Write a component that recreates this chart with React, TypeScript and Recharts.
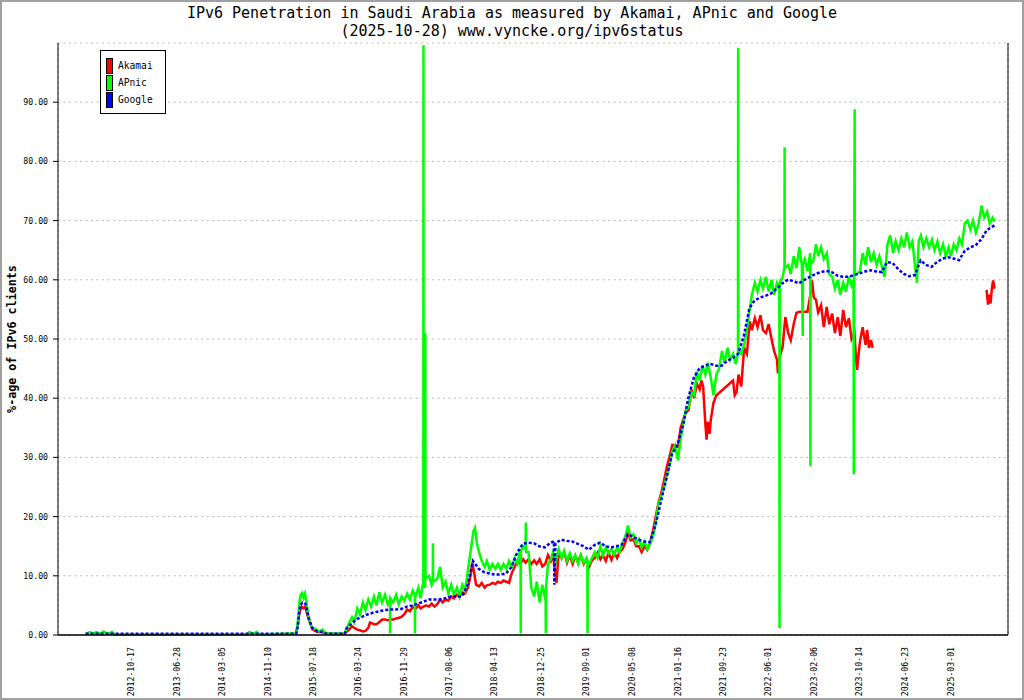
import { LineChart, Line, XAxis, YAxis, CartesianGrid, ReferenceLine, Legend } from 'recharts';

type Pt = [string, number | null];

const AKAMAI: Pt[] = [
  ['2015-04-15', 0.2], ['2015-04-25', 2.0], ['2015-05-05', 4.0], ['2015-05-15', 4.8], ['2015-05-25', 4.5],
  ['2015-06-05', 4.8], ['2015-06-15', 3.5], ['2015-06-25', 2.5], ['2015-07-13', 1.0], ['2015-08-10', 0.5],
  ['2015-09-08', 0.5], ['2015-09-30', 0.2], ['2016-01-05', 0.2],
  ['2016-02-01', 0.9], ['2016-02-17', 1.5], ['2016-03-01', 1.2], ['2016-03-17', 0.9], ['2016-04-01', 0.8],
  ['2016-04-17', 0.6], ['2016-05-01', 0.7], ['2016-05-17', 1.2], ['2016-05-26', 2.1], ['2016-06-05', 2.0],
  ['2016-06-17', 1.8], ['2016-07-01', 1.8], ['2016-07-17', 2.2], ['2016-08-01', 2.6], ['2016-08-17', 2.6],
  ['2016-09-01', 2.5], ['2016-09-17', 2.6], ['2016-10-01', 2.6], ['2016-10-17', 2.8], ['2016-11-01', 2.9],
  ['2016-11-17', 3.1], ['2016-12-01', 3.5], ['2016-12-17', 4.3], ['2017-01-01', 4.0], ['2017-01-17', 4.8],
  ['2017-02-01', 4.4], ['2017-02-17', 5.0], ['2017-03-01', 4.5], ['2017-03-17', 4.8], ['2017-04-01', 5.0],
  ['2017-04-17', 4.8], ['2017-05-01', 5.3], ['2017-05-17', 4.8], ['2017-06-01', 5.2], ['2017-06-17', 6.0],
  ['2017-07-01', 5.5], ['2017-07-17', 6.0], ['2017-08-01', 5.8], ['2017-08-17', 6.5], ['2017-09-01', 6.2],
  ['2017-09-17', 6.8], ['2017-10-01', 6.5], ['2017-10-17', 7.2], ['2017-11-01', 7.0], ['2017-11-17', 8.0],
  ['2017-12-01', 10.0], ['2017-12-11', 12.2], ['2017-12-21', 10.5], ['2018-01-01', 8.5], ['2018-01-17', 8.2],
  ['2018-02-01', 8.8], ['2018-02-17', 8.0], ['2018-03-01', 8.4], ['2018-03-17', 8.5], ['2018-04-01', 8.8],
  ['2018-04-17', 8.6], ['2018-05-01', 9.0], ['2018-05-17', 8.8], ['2018-06-01', 9.2], ['2018-06-17', 9.0],
  ['2018-07-01', 8.8], ['2018-07-17', 10.5], ['2018-08-01', 11.5], ['2018-08-17', 12.5], ['2018-09-01', 12.0],
  ['2018-09-17', 12.8], ['2018-10-01', 12.2], ['2018-10-17', 12.8], ['2018-11-01', 12.0], ['2018-11-17', 12.6],
  ['2018-12-01', 12.0], ['2018-12-17', 12.8], ['2019-01-01', 11.6], ['2019-01-17', 12.0], ['2019-02-01', 13.5],
  ['2019-02-17', 12.5], ['2019-03-01', 13.5], ['2019-03-20', 8.8], ['2019-04-01', 13.9], ['2019-04-17', 13.0],
  ['2019-05-01', 14.0], ['2019-05-17', 12.2], ['2019-06-01', 13.5], ['2019-06-17', 12.0], ['2019-07-01', 13.2],
  ['2019-07-17', 12.5], ['2019-08-01', 13.5], ['2019-08-17', 12.0], ['2019-09-01', 12.8], ['2019-09-17', 11.6],
  ['2019-10-01', 12.6], ['2019-10-17', 13.0], ['2019-11-01', 13.9], ['2019-11-17', 12.8], ['2019-12-01', 13.5],
  ['2019-12-17', 12.5], ['2020-01-01', 13.9], ['2020-01-17', 12.7], ['2020-02-01', 13.9], ['2020-02-17', 13.0],
  ['2020-03-01', 14.0], ['2020-03-17', 14.5], ['2020-04-01', 15.5], ['2020-04-17', 17.3], ['2020-05-01', 16.0],
  ['2020-05-17', 16.2], ['2020-06-01', 15.0], ['2020-06-17', 15.0], ['2020-07-01', 14.0], ['2020-07-17', 15.0],
  ['2020-08-01', 14.4], ['2020-08-17', 15.5], ['2020-09-01', 17.5], ['2020-09-17', 20.0], ['2020-10-01', 22.2],
  ['2020-10-17', 24.0], ['2020-11-01', 26.0], ['2020-11-17', 28.4], ['2020-12-01', 30.0], ['2020-12-17', 32.1],
  ['2021-01-01', 32.0], ['2021-01-17', 31.8], ['2021-02-01', 35.0], ['2021-02-17', 36.5], ['2021-03-01', 37.5],
  ['2021-03-17', 38.0], ['2021-04-01', 41.5], ['2021-04-17', 40.0], ['2021-05-01', 42.5], ['2021-05-17', 41.5],
  ['2021-05-26', 43.0], ['2021-06-05', 42.0], ['2021-06-17', 35.8], ['2021-06-24', 33.0], ['2021-07-01', 36.0],
  ['2021-07-11', 34.0], ['2021-07-17', 36.3], ['2021-08-01', 39.2], ['2021-08-17', 40.5], ['2021-11-17', 43.0],
  ['2021-11-26', 40.5], ['2021-12-06', 41.0], ['2021-12-17', 44.0], ['2022-01-01', 42.0], ['2022-01-17', 48.5],
  ['2022-02-01', 47.5], ['2022-02-17', 53.0], ['2022-03-01', 51.5], ['2022-03-17', 53.5], ['2022-04-01', 52.0],
  ['2022-04-17', 54.0], ['2022-05-01', 51.5], ['2022-05-17', 51.0], ['2022-06-01', 52.5], ['2022-06-17', 50.0],
  ['2022-07-01', 48.0], ['2022-07-17', 46.5], ['2022-07-22', 44.2], ['2022-08-01', 47.0], ['2022-08-17', 48.7],
  ['2022-09-01', 53.7], ['2022-09-17', 51.0], ['2022-10-01', 49.8], ['2022-10-17', 52.5], ['2022-11-01', 54.4],
  ['2022-11-17', 54.6], ['2023-01-01', 54.6], ['2023-01-17', 57.5], ['2023-01-26', 59.9], ['2023-02-05', 57.0],
  ['2023-02-17', 56.6], ['2023-03-01', 54.5], ['2023-03-17', 55.7], ['2023-04-01', 52.0], ['2023-04-17', 55.4],
  ['2023-05-01', 52.5], ['2023-05-17', 54.3], ['2023-06-01', 51.0], ['2023-06-17', 53.7], ['2023-07-01', 50.5],
  ['2023-07-17', 54.9], ['2023-08-01', 52.0], ['2023-08-17', 53.5], ['2023-09-01', 50.0], ['2023-09-17', 51.0],
  ['2023-09-24', 47.5], ['2023-10-01', 44.8], ['2023-10-17', 49.5], ['2023-11-01', 52.0], ['2023-11-17', 49.0],
  ['2023-11-26', 51.5], ['2023-12-06', 48.5], ['2023-12-17', 49.8], ['2023-12-26', 48.5],
  ['2024-06-01', null],
  ['2025-09-14', 58.3], ['2025-09-22', 55.8], ['2025-09-30', 57.5], ['2025-10-06', 56.0], ['2025-10-13', 58.5],
  ['2025-10-20', 59.9], ['2025-10-28', 58.5],
];

const APNIC: Pt[] = [
  ['2012-02-10', 0.2], ['2012-03-05', 0.5], ['2012-03-20', 0.2], ['2012-04-10', 0.5], ['2012-05-01', 0.2],
  ['2012-05-20', 0.6], ['2012-06-10', 0.2], ['2012-07-05', 0.5], ['2012-07-20', 0.1], ['2014-07-20', 0.1],
  ['2014-08-01', 0.5], ['2014-08-20', 0.2], ['2014-09-10', 0.5], ['2014-09-28', 0.1],
  ['2015-04-17', 0.3], ['2015-04-25', 2.5], ['2015-05-03', 5.5], ['2015-05-10', 6.8], ['2015-05-18', 7.1],
  ['2015-05-26', 6.3], ['2015-06-03', 7.0], ['2015-06-10', 5.8], ['2015-06-20', 3.5], ['2015-07-01', 2.0],
  ['2015-07-13', 1.2], ['2015-08-01', 1.0], ['2015-08-20', 0.6], ['2015-09-08', 0.9], ['2015-09-25', 0.3],
  ['2016-01-05', 0.2], ['2016-02-01', 2.0], ['2016-02-17', 3.0], ['2016-03-01', 2.2], ['2016-03-17', 4.5],
  ['2016-04-01', 3.5], ['2016-04-17', 5.5], ['2016-05-01', 4.2], ['2016-05-17', 6.0], ['2016-06-01', 4.8],
  ['2016-06-17', 6.5], ['2016-07-01', 5.0], ['2016-07-17', 7.2], ['2016-08-01', 5.5], ['2016-08-17', 6.8],
  ['2016-09-01', 5.2], ['2016-09-13', 6.0], ['2016-09-14', 0.3], ['2016-09-15', 6.2], ['2016-10-01', 5.5],
  ['2016-10-17', 6.8], ['2016-11-01', 5.2], ['2016-11-17', 6.5], ['2016-12-01', 5.8], ['2016-12-17', 7.0],
  ['2017-01-01', 6.0], ['2017-01-17', 7.5], ['2017-01-28', 6.8], ['2017-01-29', 0.3], ['2017-01-30', 7.0],
  ['2017-02-01', 6.5], ['2017-02-17', 8.0], ['2017-03-01', 6.2], ['2017-03-16', 9.0], ['2017-03-17', 99.6],
  ['2017-03-18', 8.5], ['2017-03-26', 8.0], ['2017-03-27', 51.0], ['2017-03-28', 9.5], ['2017-04-17', 10.0],
  ['2017-05-01', 8.5], ['2017-05-07', 9.0], ['2017-05-08', 15.5], ['2017-05-09', 9.0], ['2017-06-01', 9.5],
  ['2017-06-17', 11.5], ['2017-07-01', 8.0], ['2017-07-17', 9.0], ['2017-08-01', 7.0], ['2017-08-17', 8.5],
  ['2017-09-01', 6.8], ['2017-09-17', 8.0], ['2017-10-01', 6.5], ['2017-10-17', 8.5], ['2017-11-01', 7.5],
  ['2017-11-17', 11.0], ['2017-12-01', 14.0], ['2017-12-17', 17.5], ['2017-12-26', 18.1], ['2018-01-05', 15.5],
  ['2018-01-17', 14.0], ['2018-02-01', 12.5], ['2018-02-17', 11.5], ['2018-03-01', 12.5], ['2018-03-17', 11.0],
  ['2018-04-01', 12.0], ['2018-04-17', 11.2], ['2018-05-01', 12.0], ['2018-05-17', 11.0], ['2018-06-01', 12.0],
  ['2018-06-17', 11.2], ['2018-07-01', 12.5], ['2018-07-17', 11.5], ['2018-08-01', 13.0], ['2018-08-17', 12.0],
  ['2018-09-01', 14.5], ['2018-09-03', 14.0], ['2018-09-04', 0.3], ['2018-09-05', 14.2], ['2018-09-17', 15.0],
  ['2018-10-01', 14.5], ['2018-10-02', 19.0], ['2018-10-03', 14.0], ['2018-10-17', 14.0], ['2018-11-01', 8.0],
  ['2018-11-17', 6.5], ['2018-12-01', 9.0], ['2018-12-17', 5.5], ['2019-01-01', 8.5], ['2019-01-17', 6.0],
  ['2019-01-19', 6.5], ['2019-01-20', 0.3], ['2019-01-21', 8.0], ['2019-02-01', 12.0], ['2019-02-17', 12.8],
  ['2019-03-01', 14.0], ['2019-03-17', 12.5], ['2019-04-01', 14.5], ['2019-04-17', 13.0], ['2019-05-01', 14.2],
  ['2019-05-17', 12.5], ['2019-06-01', 13.8], ['2019-06-17', 12.5], ['2019-07-01', 13.5], ['2019-07-17', 12.0],
  ['2019-08-01', 13.5], ['2019-08-17', 12.2], ['2019-09-01', 13.0], ['2019-09-06', 12.5], ['2019-09-07', 0.3],
  ['2019-09-08', 12.0], ['2019-09-17', 12.0], ['2019-10-01', 13.0], ['2019-10-17', 14.0], ['2019-11-01', 13.0],
  ['2019-11-17', 15.0], ['2019-12-01', 13.5], ['2019-12-17', 14.8], ['2020-01-01', 13.8], ['2020-01-17', 14.5],
  ['2020-02-01', 13.5], ['2020-02-17', 14.8], ['2020-03-01', 14.0], ['2020-03-17', 15.5], ['2020-04-01', 16.5],
  ['2020-04-17', 18.5], ['2020-05-01', 16.5], ['2020-05-17', 17.0], ['2020-06-01', 15.5], ['2020-06-17', 16.2],
  ['2020-07-01', 14.8], ['2020-07-17', 15.8], ['2020-08-01', 14.5], ['2020-08-17', 15.5], ['2020-09-01', 16.5],
  ['2020-09-17', 19.0], ['2020-10-01', 22.0], ['2020-10-17', 23.5], ['2020-11-01', 25.0], ['2020-11-17', 27.0],
  ['2020-12-01', 28.5], ['2020-12-17', 31.0], ['2021-01-01', 32.0], ['2021-01-17', 29.5], ['2021-02-01', 33.0],
  ['2021-02-17', 36.0], ['2021-03-01', 38.0], ['2021-03-17', 38.5], ['2021-04-01', 41.0], ['2021-04-17', 40.5],
  ['2021-05-01', 44.5], ['2021-05-17', 43.0], ['2021-06-01', 45.5], ['2021-06-17', 44.0], ['2021-07-01', 46.0],
  ['2021-07-17', 43.5], ['2021-08-01', 40.5], ['2021-08-17', 44.0], ['2021-09-01', 45.0], ['2021-09-17', 48.0],
  ['2021-10-01', 46.0], ['2021-10-17', 48.5], ['2021-11-01', 46.5], ['2021-11-17', 47.5], ['2021-12-01', 45.8],
  ['2021-12-14', 47.5], ['2021-12-15', 99.2], ['2021-12-16', 48.0], ['2022-01-01', 47.5], ['2022-01-17', 49.0],
  ['2022-02-01', 51.5], ['2022-02-17', 55.0], ['2022-03-01', 57.5], ['2022-03-17', 59.5], ['2022-04-01', 58.0],
  ['2022-04-17', 60.0], ['2022-05-01', 58.5], ['2022-05-17', 60.5], ['2022-06-01', 58.0], ['2022-06-17', 60.0],
  ['2022-07-01', 57.5], ['2022-07-17', 59.5], ['2022-07-30', 58.5], ['2022-07-31', 1.2], ['2022-08-01', 59.5],
  ['2022-08-17', 60.5], ['2022-08-27', 62.0], ['2022-08-28', 82.4], ['2022-08-29', 62.0], ['2022-09-17', 62.5],
  ['2022-10-01', 61.0], ['2022-10-17', 64.0], ['2022-11-01', 62.0], ['2022-11-17', 65.5], ['2022-12-01', 62.5],
  ['2022-12-06', 50.5], ['2022-12-07', 62.5], ['2022-12-17', 63.5], ['2023-01-01', 61.5], ['2023-01-16', 64.5],
  ['2023-01-17', 28.5], ['2023-01-18', 63.0], ['2023-02-01', 63.0], ['2023-02-17', 66.0], ['2023-03-01', 64.0],
  ['2023-03-17', 65.5], ['2023-04-01', 63.5], ['2023-04-17', 64.5], ['2023-05-01', 61.0], ['2023-05-17', 60.5],
  ['2023-06-01', 58.5], ['2023-06-17', 60.0], ['2023-07-01', 57.5], ['2023-07-17', 59.5], ['2023-08-01', 58.0],
  ['2023-08-17', 60.5], ['2023-09-01', 59.0], ['2023-09-12', 60.0], ['2023-09-13', 27.2], ['2023-09-15', 60.5],
  ['2023-09-18', 88.8], ['2023-09-19', 61.0], ['2023-10-01', 61.0], ['2023-10-17', 61.5], ['2023-11-01', 64.5],
  ['2023-11-17', 62.5], ['2023-12-01', 65.5], ['2023-12-17', 63.0], ['2024-01-01', 64.5], ['2024-01-17', 62.5],
  ['2024-02-01', 64.0], ['2024-02-17', 62.0], ['2024-03-01', 60.5], ['2024-03-17', 66.0], ['2024-04-01', 67.5],
  ['2024-04-17', 64.5], ['2024-05-01', 66.5], ['2024-05-17', 65.0], ['2024-06-01', 67.0], ['2024-06-17', 65.5],
  ['2024-07-01', 68.0], ['2024-07-17', 65.5], ['2024-08-01', 66.5], ['2024-08-17', 62.0], ['2024-08-26', 59.5],
  ['2024-09-05', 66.5], ['2024-09-17', 67.5], ['2024-10-01', 65.5], ['2024-10-17', 67.0], ['2024-11-01', 65.5],
  ['2024-11-17', 66.8], ['2024-12-01', 65.0], ['2024-12-17', 66.5], ['2025-01-01', 64.5], ['2025-01-17', 66.0],
  ['2025-02-01', 64.0], ['2025-02-17', 65.5], ['2025-03-01', 64.0], ['2025-03-17', 66.0], ['2025-04-01', 65.0],
  ['2025-04-17', 67.0], ['2025-05-01', 66.0], ['2025-05-17', 69.5], ['2025-06-01', 70.0], ['2025-06-17', 68.5],
  ['2025-07-01', 70.0], ['2025-07-17', 68.0], ['2025-08-01', 69.5], ['2025-08-17', 72.5], ['2025-09-01', 70.5],
  ['2025-09-17', 71.5], ['2025-10-01', 69.5], ['2025-10-17', 70.5], ['2025-10-28', 69.8],
];

const GOOGLE: Pt[] = [
  ['2012-02-10', 0.2], ['2013-06-01', 0.2], ['2014-06-01', 0.2], ['2015-04-15', 0.2], ['2015-04-25', 1.5],
  ['2015-05-01', 3.5], ['2015-05-08', 5.0], ['2015-05-20', 5.5], ['2015-06-05', 5.3], ['2015-06-12', 4.5],
  ['2015-06-21', 3.1], ['2015-07-13', 1.2], ['2015-08-10', 0.6], ['2015-09-08', 0.5], ['2015-09-30', 0.2],
  ['2016-01-08', 0.2], ['2016-01-15', 1.0], ['2016-02-15', 2.0], ['2016-03-15', 2.7], ['2016-04-15', 3.1],
  ['2016-05-15', 3.5], ['2016-06-15', 3.8], ['2016-07-15', 4.0], ['2016-08-15', 4.2], ['2016-09-15', 4.3],
  ['2016-10-15', 4.3], ['2016-11-15', 4.4], ['2016-12-15', 4.8], ['2017-01-15', 5.0], ['2017-02-15', 5.3],
  ['2017-03-15', 5.6], ['2017-04-15', 6.0], ['2017-05-15', 6.0], ['2017-06-15', 6.0], ['2017-07-15', 6.2],
  ['2017-08-15', 6.5], ['2017-09-15', 6.5], ['2017-10-15', 6.5], ['2017-11-15', 8.5], ['2017-12-15', 12.5],
  ['2018-01-15', 11.2], ['2018-02-15', 10.6], ['2018-03-15', 10.4], ['2018-04-15', 10.2], ['2018-05-15', 10.2],
  ['2018-06-15', 10.4], ['2018-07-15', 11.5], ['2018-08-15', 13.9], ['2018-09-15', 15.4], ['2018-10-15', 15.6],
  ['2018-11-15', 15.5], ['2018-12-15', 15.0], ['2019-01-15', 14.8], ['2019-02-15', 15.6], ['2019-03-06', 15.8],
  ['2019-03-08', 8.5], ['2019-03-14', 15.5], ['2019-04-15', 16.1], ['2019-05-15', 15.9], ['2019-06-15', 15.8],
  ['2019-07-15', 15.4], ['2019-08-15', 15.0], ['2019-09-15', 14.4], ['2019-10-15', 15.2], ['2019-11-15', 15.6],
  ['2019-12-15', 15.0], ['2020-01-15', 14.8], ['2020-02-15', 15.0], ['2020-03-15', 15.3], ['2020-04-15', 17.0],
  ['2020-05-15', 16.6], ['2020-06-15', 16.1], ['2020-07-15', 15.8], ['2020-08-15', 15.7], ['2020-09-15', 18.5],
  ['2020-10-15', 22.5], ['2020-11-15', 26.5], ['2020-12-15', 30.5], ['2021-01-15', 32.2], ['2021-02-15', 35.5],
  ['2021-03-15', 40.0], ['2021-04-15', 43.5], ['2021-05-15', 45.0], ['2021-06-15', 45.5], ['2021-07-15', 45.8],
  ['2021-08-15', 45.5], ['2021-09-15', 45.5], ['2021-10-15', 46.3], ['2021-11-15', 46.8], ['2021-12-15', 47.5],
  ['2022-01-15', 50.5], ['2022-02-15', 55.2], ['2022-03-15', 56.5], ['2022-04-15', 57.0], ['2022-05-15', 57.3],
  ['2022-06-15', 57.7], ['2022-07-15', 58.5], ['2022-08-15', 59.4], ['2022-09-15', 60.0], ['2022-10-15', 59.8],
  ['2022-11-15', 59.4], ['2022-12-15', 60.0], ['2023-01-15', 60.5], ['2023-02-15', 61.0], ['2023-03-15', 61.3],
  ['2023-04-15', 61.5], ['2023-05-15', 61.3], ['2023-06-15', 60.7], ['2023-07-15', 60.5], ['2023-08-15', 60.5],
  ['2023-09-15', 60.8], ['2023-10-15', 61.1], ['2023-11-15', 61.4], ['2023-12-15', 61.6], ['2024-01-15', 61.4],
  ['2024-02-15', 61.3], ['2024-03-15', 63.0], ['2024-04-15', 62.8], ['2024-05-15', 61.8], ['2024-06-15', 61.0],
  ['2024-07-15', 60.6], ['2024-08-15', 60.8], ['2024-09-15', 63.3], ['2024-10-15', 62.5], ['2024-11-15', 62.2],
  ['2024-12-15', 63.0], ['2025-01-15', 63.6], ['2025-02-15', 63.8], ['2025-03-15', 63.6], ['2025-04-15', 63.3],
  ['2025-05-15', 64.8], ['2025-06-15', 65.5], ['2025-07-15', 65.8], ['2025-08-15', 66.8], ['2025-09-15', 68.4],
  ['2025-10-28', 69.2],
];

const SERIES_ORDER = ['Akamai', 'APnic', 'Google'];
const X_LABELS = [
  '2012-10-17', '2013-06-28', '2014-03-05', '2014-11-10', '2015-07-18', '2016-03-24', '2016-11-29',
  '2017-08-06', '2018-04-13', '2018-12-25', '2019-09-01', '2020-05-08', '2021-01-16', '2021-09-23',
  '2022-06-01', '2023-02-06', '2023-10-14', '2024-06-23', '2025-03-01',
];
const Y_TICKS = [0, 10, 20, 30, 40, 50, 60, 70, 80, 90];

const DAY = 86400000;
const MONO = '"DejaVu Sans Mono", "Liberation Mono", monospace';
const toDay = (s: string) => Date.parse(s) / DAY;
const toRows = (pts: Pt[]) => pts.map(([d, v]) => ({ x: toDay(d), v }));

const X_START = toDay('2011-09-11');
const X_END = toDay('2026-01-10');
const GRID_TICKS = Array.from({ length: 22 }, (_, k) => X_START + (k * (X_END - X_START)) / 21);

function DateTick({ x, y, payload }: any) {
  const label = new Date(payload.value * DAY).toISOString().slice(0, 10);
  const top = y + 7;
  return (
    <text
      x={x}
      y={top}
      transform={`rotate(-90 ${x} ${top})`}
      textAnchor="end"
      dy="0.35em"
      fontSize={8.2}
      fontFamily={MONO}
      fill="#000"
    >
      {label}
    </text>
  );
}

function LegendBox({ payload }: any) {
  const items = [...(payload ?? [])].sort(
    (a: any, b: any) => SERIES_ORDER.indexOf(a.value) - SERIES_ORDER.indexOf(b.value),
  );
  return (
    <div
      style={{
        width: 59,
        height: 51,
        padding: '6px 0 5px 5px',
        border: '1px solid #000',
        background: '#fff',
        fontFamily: MONO,
        fontSize: 9.6,
        color: '#000',
      }}
    >
      {items.map((p: any) => (
        <div key={p.value} style={{ display: 'flex', alignItems: 'center', height: 17 }}>
          <span
            style={{
              width: 5,
              height: 14,
              background: p.color,
              border: '1px solid #000',
              marginRight: 5,
            }}
          />
          <span>{p.value}</span>
        </div>
      ))}
    </div>
  );
}

export default function App() {
  return (
    <div
      style={{
        position: 'absolute',
        left: 0,
        top: 0,
        width: 1024,
        height: 700,
        background: '#fff',
        overflow: 'hidden',
      }}
    >
      <div
        style={{
          position: 'absolute',
          left: 0,
          top: 4,
          width: 1024,
          textAlign: 'center',
          fontFamily: MONO,
          fontSize: 15,
          lineHeight: '18px',
          color: '#000',
        }}
      >
        <div>IPv6 Penetration in Saudi Arabia as measured by Akamai, APnic and Google</div>
        <div>(2025-10-28) www.vyncke.org/ipv6status</div>
      </div>
      <div
        style={{
          position: 'absolute',
          left: 12,
          top: 339,
          transform: 'translate(-50%, -50%) rotate(-90deg)',
          whiteSpace: 'nowrap',
          fontFamily: MONO,
          fontWeight: 'bold',
          fontSize: 11.7,
          color: '#000',
        }}
      >
        %-age of IPv6 clients
      </div>
      <LineChart width={1024} height={700} margin={{ top: 43, right: 16, bottom: 0, left: 0 }}>
        <CartesianGrid stroke="#b8b8b8" strokeDasharray="2 3.5" />
        <XAxis
          dataKey="x"
          type="number"
          domain={[X_START, X_END]}
          allowDataOverflow
          ticks={GRID_TICKS}
          interval={0}
          tick={false}
          tickSize={5}
          height={5}
          axisLine={{ stroke: '#000', strokeWidth: 1.5 }}
          tickLine={{ stroke: '#000' }}
        />
        <XAxis
          xAxisId="lbl"
          dataKey="x"
          type="number"
          domain={[X_START, X_END]}
          allowDataOverflow
          ticks={X_LABELS.map(toDay)}
          interval={0}
          axisLine={false}
          tickLine={false}
          tickSize={0}
          tickMargin={0}
          height={60}
          tick={<DateTick />}
        />
        <YAxis
          type="number"
          domain={[0, 100]}
          ticks={Y_TICKS}
          interval={0}
          width={58}
          tickSize={5}
          tickMargin={5}
          tickFormatter={(v: number) => v.toFixed(2)}
          tick={{ fontSize: 8.2, fontFamily: MONO, fill: '#000' }}
          axisLine={{ stroke: '#000' }}
          tickLine={{ stroke: '#000' }}
        />
        <ReferenceLine x={X_END} stroke="#000" />
        <Legend
          layout="vertical"
          align="center"
          verticalAlign="middle"
          content={<LegendBox />}
          wrapperStyle={{ left: 100, top: 50, width: 'auto', height: 'auto' }}
        />
        <Line
          name="Akamai"
          data={toRows(AKAMAI)}
          dataKey="v"
          stroke="#ff0000"
          strokeWidth={2.5}
          dot={false}
          activeDot={false}
          isAnimationActive={false}
        />
        <Line
          name="APnic"
          data={toRows(APNIC)}
          dataKey="v"
          stroke="#00ff00"
          strokeWidth={2.5}
          dot={false}
          activeDot={false}
          isAnimationActive={false}
        />
        <Line
          name="Google"
          data={toRows(GOOGLE)}
          dataKey="v"
          stroke="#0000ff"
          strokeWidth={2.5}
          strokeDasharray="3 2"
          dot={false}
          activeDot={false}
          isAnimationActive={false}
        />
      </LineChart>
      <div
        style={{
          position: 'absolute',
          left: 0,
          top: 0,
          width: 1024,
          height: 700,
          boxSizing: 'border-box',
          border: '2px solid #a0a0a0',
          pointerEvents: 'none',
        }}
      />
    </div>
  );
}
